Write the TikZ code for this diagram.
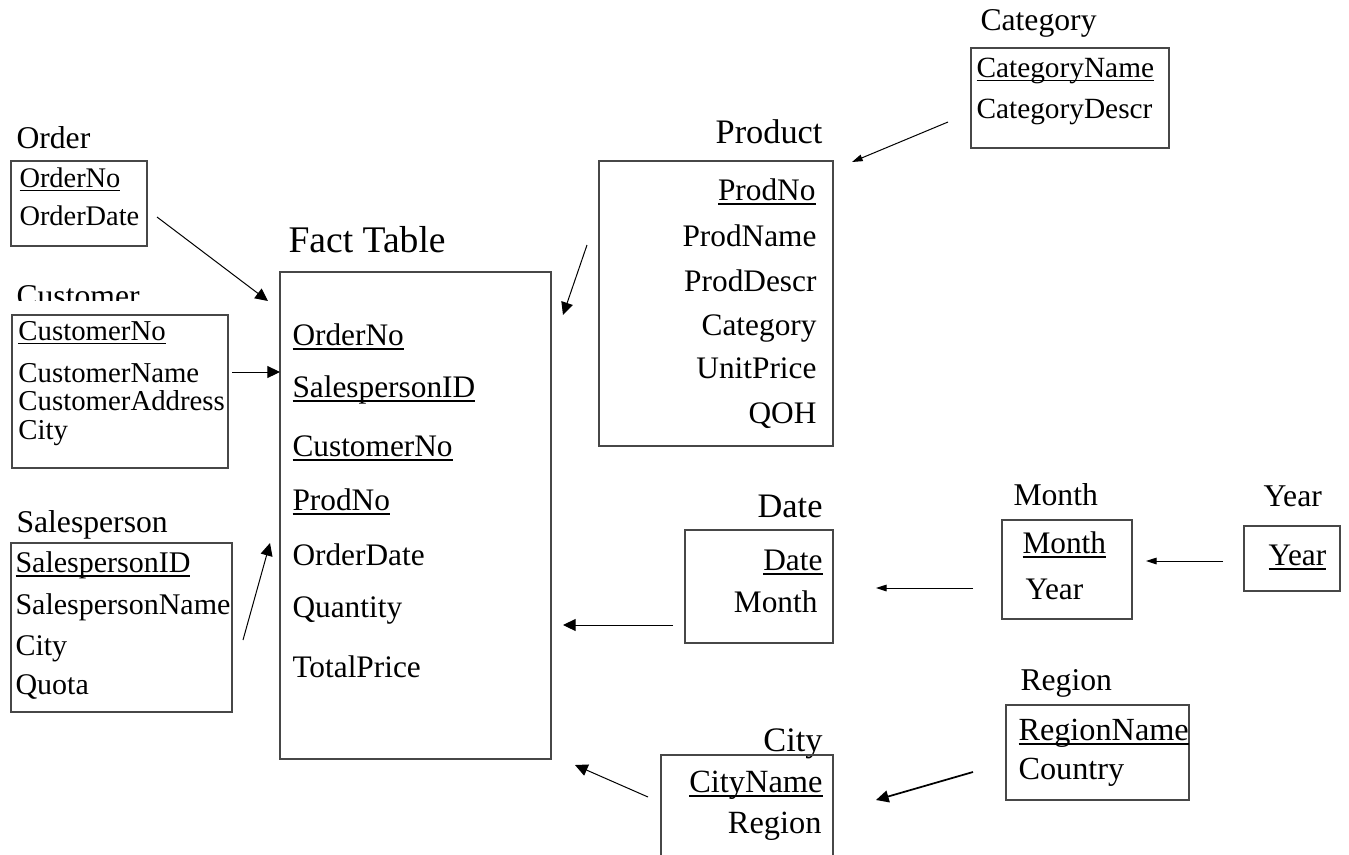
\documentclass[tikz,border=0pt]{standalone}
\usepackage{fontspec}
\setmainfont{Liberation Serif}
\usetikzlibrary{arrows.meta,fit}

% key field: underline at a fixed depth, as in a word processor
\newcommand{\pkey}[1]{\setbox0\hbox{#1}\rlap{\vrule height -0.09em depth 0.15em width \wd0}\box0}

\tikzset{every picture/.style={line width=0.75pt}}
\tikzset{
  tbl/.style={draw=black!72, line width=1pt, inner sep=0pt},
  fld/.style={inner sep=0pt, font=\fontsize{23.5}{28}\selectfont},
  sfld/.style={inner sep=0pt, font=\fontsize{21.3}{25}\selectfont},
  ttl/.style={inner sep=0pt, font=\fontsize{23.75}{28}\selectfont},
  bttl/.style={inner sep=0pt, font=\fontsize{25.75}{31}\selectfont},
  lnk/.style={-{Triangle[length=9.5pt,width=9pt]}},
  slnk/.style={-{Triangle[length=8pt,width=5pt]}},
}

\begin{document}
\begin{tikzpicture}[x=0.75pt,y=0.75pt,yscale=-1]
\clip (0,0) rectangle (1349,854);

%Table: Order
\node[ttl, anchor=base west] (ordT) at (16,148) {Order};
\node[tbl, fit={(11,161) (147,246)}] (order) {};
% Text Node
\node[sfld, anchor=base west] (ordA) at (19,187) {\pkey{OrderNo}};
% Text Node
\node[sfld, anchor=base west] (ordB) at (19,225) {OrderDate};

%Table: Customer
\begin{scope}
\clip (0,270) rectangle (200,300);
\node[ttl, anchor=base west] (cusT) at (16,306) {Customer};
\end{scope}
\node[tbl, fit={(12,315) (228,468)}] (customer) {};
% Text Node
\node[sfld, font=\fontsize{21.6}{26}\selectfont, anchor=base west] (cusA) at (18,340) {\pkey{CustomerNo}};
% Text Node
\node[sfld, font=\fontsize{21.6}{26}\selectfont, anchor=base west] (cusB) at (18,382) {CustomerName};
% Text Node
\node[sfld, font=\fontsize{21.6}{26}\selectfont, anchor=base west] (cusC) at (18,410) {CustomerAddress};
% Text Node
\node[sfld, font=\fontsize{21.6}{26}\selectfont, anchor=base west] (cusD) at (18,439) {City};

%Table: Salesperson
\node[ttl, anchor=base west] (salT) at (16,532) {Salesperson};
\node[tbl, fit={(11,543) (232,712)}] (sales) {};
% Text Node
\node[sfld, font=\fontsize{22.5}{26}\selectfont, anchor=base west] (salA) at (15,572) {\pkey{SalespersonID}};
% Text Node
\node[sfld, font=\fontsize{22.5}{26}\selectfont, anchor=base west] (salB) at (15,614) {SalespersonName};
% Text Node
\node[sfld, font=\fontsize{22.5}{26}\selectfont, anchor=base west] (salC) at (15,655) {City};
% Text Node
\node[sfld, font=\fontsize{22.5}{26}\selectfont, anchor=base west] (salD) at (15,694) {Quota};

%Table: Fact Table
\node[inner sep=0pt, font=\fontsize{28.2}{33}\selectfont, anchor=base west] (facT) at (288,252) {Fact Table};
\node[tbl, fit={(280,272) (551,759)}] (fact) {};
% Text Node
\node[fld, anchor=base west] (facA) at (292,345) {\pkey{OrderNo}};
% Text Node
\node[fld, anchor=base west] (facB) at (292,397) {\pkey{SalespersonID}};
% Text Node
\node[fld, anchor=base west] (facC) at (292,456) {\pkey{CustomerNo}};
% Text Node
\node[fld, anchor=base west] (facD) at (292,510) {\pkey{ProdNo}};
% Text Node
\node[fld, anchor=base west] (facE) at (292,565) {OrderDate};
% Text Node
\node[fld, anchor=base west] (facF) at (292,617) {Quantity};
% Text Node
\node[fld, anchor=base west] (facG) at (292,677) {TotalPrice};

%Table: Product
\node[bttl, anchor=base east] (proT) at (823,143) {Product};
\node[tbl, fit={(599,161) (833,446)}] (product) {};
% Text Node
\node[fld, anchor=base east] (proA) at (816,200) {\pkey{ProdNo}};
% Text Node
\node[fld, anchor=base east] (proB) at (817,246) {ProdName};
% Text Node
\node[fld, anchor=base east] (proC) at (817,291) {ProdDescr};
% Text Node
\node[fld, anchor=base east] (proD) at (817,335) {Category};
% Text Node
\node[fld, anchor=base east] (proE) at (817,378) {UnitPrice};
% Text Node
\node[fld, anchor=base east] (proF) at (817,423) {QOH};

%Table: Category
\node[ttl, anchor=base west] (catT) at (980,30) {Category};
\node[tbl, fit={(971,48) (1169,148)}] (category) {};
% Text Node
\node[sfld, font=\fontsize{22}{26}\selectfont, anchor=base west] (catA) at (976,77) {\pkey{CategoryName}};
% Text Node
\node[sfld, font=\fontsize{22}{26}\selectfont, anchor=base west] (catB) at (976,118) {CategoryDescr};

%Table: Date
\node[bttl, anchor=base east] (datT) at (823,517) {Date};
\node[tbl, fit={(685,530) (833,643)}] (date) {};
% Text Node
\node[fld, anchor=base east] (datA) at (823,570) {\pkey{Date}};
% Text Node
\node[fld, anchor=base east] (datB) at (818,612) {Month};

%Table: Month
\node[ttl, anchor=base west] (monT) at (1013,505) {Month};
\node[tbl, fit={(1002,520) (1132,619)}] (month) {};
% Text Node
\node[fld, anchor=base west] (monA) at (1022,553) {\pkey{Month}};
% Text Node
\node[fld, anchor=base west] (monB) at (1025,599) {Year};

%Table: Year
\node[ttl, anchor=base west] (yeaT) at (1263,506) {Year};
\node[tbl, fit={(1244,526) (1340,591)}] (year) {};
% Text Node
\node[fld, anchor=base west] (yeaA) at (1268,565) {\pkey{Year}};

%Table: Region
\node[ttl, anchor=base west] (regT) at (1020,690) {Region};
\node[tbl, fit={(1006,705) (1189,800)}] (region) {};
% Text Node
\node[fld, font=\fontsize{24.2}{29}\selectfont, anchor=base west] (regA) at (1018,740) {\pkey{RegionName}};
% Text Node
\node[fld, font=\fontsize{24.2}{29}\selectfont, anchor=base west] (regB) at (1018,779) {Country};

%Table: City
\node[bttl, anchor=base east] (citT) at (823,751) {City};
\node[tbl, fit={(661,755) (833,880)}] (city) {};
% Text Node
\node[fld, font=\fontsize{24.3}{29}\selectfont, anchor=base east] (citA) at (823,792) {\pkey{CityName}};
% Text Node
\node[fld, font=\fontsize{24.3}{29}\selectfont, anchor=base east] (citB) at (822,833) {Region};

%Straight Lines
\coordinate (ordTail) at (157,217);
\coordinate (ordHead) at (268,301);
\draw[lnk] (ordTail) -- (ordHead);

\coordinate (cusTail) at (232,372);
\coordinate (cusHead) at (280,372);
\draw[lnk] (cusTail) -- (cusHead);

\coordinate (salTail) at (243,640);
\coordinate (salHead) at (270,543);
\draw[lnk] (salTail) -- (salHead);

\coordinate (proTail) at (587,245);
\coordinate (proHead) at (563,315);
\draw[lnk] (proTail) -- (proHead);

\coordinate (catTail) at (948,122);
\coordinate (catHead) at (852,162);
\draw[slnk] (catTail) -- (catHead);

\coordinate (yeaTail) at (1223,561);
\coordinate (yeaHead) at (1146,561);
\draw[slnk] (yeaTail) -- (yeaHead);

\coordinate (monTail) at (973,588);
\coordinate (monHead) at (876,588);
\draw[slnk] (monTail) -- (monHead);

\coordinate (datTail) at (673,625);
\coordinate (datHead) at (563,625);
\draw[lnk] (datTail) -- (datHead);

\coordinate (regTail) at (973,772);
\coordinate (regHead) at (876,800);
\draw[lnk, line width=1.3pt] (regTail) -- (regHead);

\coordinate (citTail) at (648,797);
\coordinate (citHead) at (575,765);
\draw[lnk] (citTail) -- (citHead);

\end{tikzpicture}
\end{document}
